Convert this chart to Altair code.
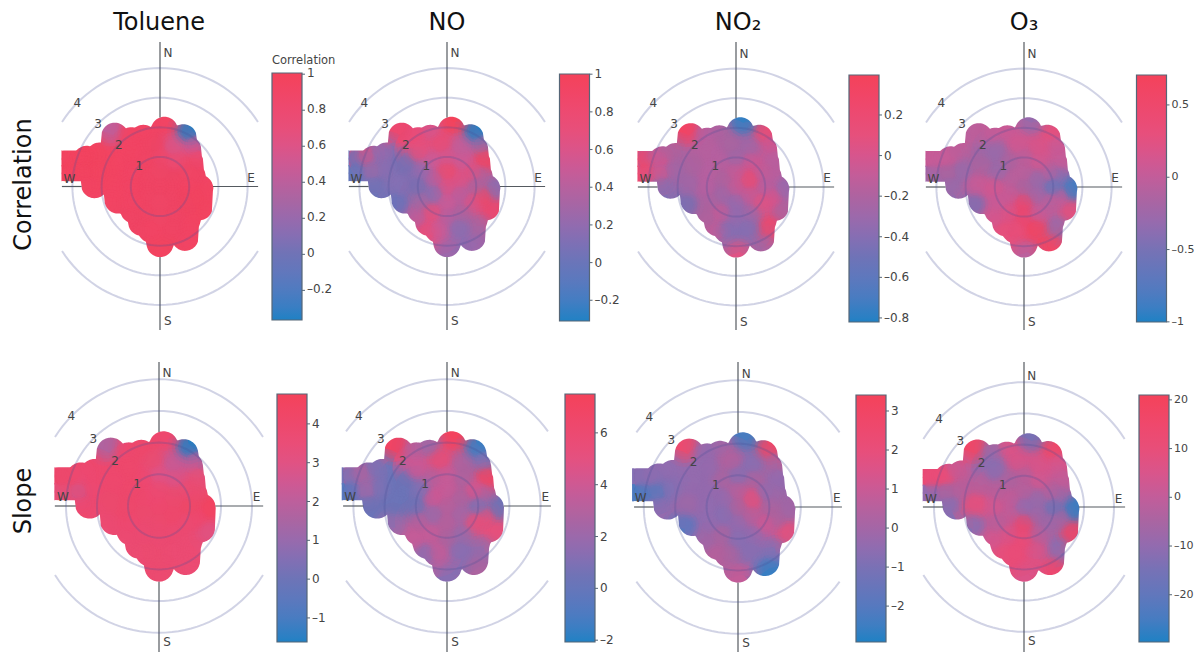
import math
import altair as alt
import pandas as pd

# Sample positions (wind vector, east / north, in ring units) shared by every panel
pos_x = [0, 0, .43, .43, 0, -.43, -.43,
         0, .5, .87, 1, .87, .5, 0, -.5, -.87, -1, -.87, -.5,
         -.2, .45, -.95, -1.45, -1.6, -.3, .4, 1.1, 1.2,
         .15, .8, .95, 1.03, 1.36, 1.34, .92, .86, 0, -.63, -.9, -1.44, -2.24, -1.85, -2.51, -2.3, -2.07, -1.55, -.98, -.57,
         -3.1, -2.6, -3.1, -2.6]
pos_y = [0, .5, .25, -.25, -.5, -.25, .25,
         1, .87, .5, 0, -.5, -.87, -1, -.87, -.5, 0, .5, .87,
         1.45, 1.35, 1.2, .75, .1, -1.45, -1.4, .35, -.35,
         1.9, 1.65, 1.25, .8, -.06, -.69, -1.15, -1.72, -1.93, -1.21, -.79, -.46, .06, .45, .92, .45, 1.03, 1.7, 1.55, 1.63,
         .95, .95, .45, .45]
FIRST_LOBE = 28  # samples from here on lie on the outline
N_CIRCLES = 48   # the last four samples form the squared-off western strip

corr_toluene = [.9, .88, .9, .9, .88, .9, .9,
                .85, .75, .88, .92, .9, .9, .88, .9, .92, .92, .92, .9,
                .9, .55, .92, .92, .92, .92, .9, .9, .95,
                .92, -.37, .5, .85, .93, .95, .92, .93, .95, .9, .9, .92, .92, .95, .95, .95, .95, .42, .92, .92,
                .95, .95, .95, .95]
corr_no = [.6, .8, .6, .4, .5, .15, .4,
           .55, .5, .65, .35, .6, .35, .4, .7, .3, .08, .2, .5,
           .78, .45, .7, .08, .15, .5, .15, .35, .88,
           1, -.31, .3, .97, .15, .82, .35, .25, .25, .75, .4, -.02, .03, .15, .65, .3, .2, .82, .75, .55,
           -.02, .15, -.05, .15]
corr_no2 = [-.1, -.1, .2, -.1, -.34, -.28, -.22,
            -.28, -.05, -.1, -.16, .05, -.28, -.34, -.1, -.22, -.16, -.16, -.16,
            -.22, -.28, -.16, -.22, -.28, -.41, -.41, -.16, 0,
            -.77, .2, -.05, -.16, -.34, -.22, .27, -.22, .05, -.1, -.22, -.46, -.41, -.28, -.16, -.16, -.22, .33, -.16, -.22,
            .27, 0, .2, .05]
corr_o3 = [-.14, -.05, -.31, -.23, .46, .03, -.05,
           -.05, .12, -.05, -.66, -.05, .03, .46, .2, .03, .12, -.31, -.14,
           .12, .2, -.31, -.14, .03, .29, .63, -.4, .03,
           -.31, .29, .03, .03, -.91, .29, -.31, .55, -.05, .29, .12, -.48, -.31, -.31, .03, -.14, -.05, -.05, .03, .03,
           .03, .03, -.23, -.14]
slope_toluene = [3.9, 3.6, 3.8, 4.0, 3.8, 3.8, 3.9,
                 2.9, 2.85, 3.6, 4.2, 3.7, 3.7, 3.7, 3.7, 3.9, 4.0, 4.0, 3.9,
                 3.8, 2.2, 4.0, 3.9, 3.8, 3.8, 3.7, 3.8, 3.9,
                 3.9, -1.6, 2.2, 3.4, 4.6, 3.0, 3.7, 3.7, 3.8, 3.6, 3.6, 3.6, 3.9, 3.9, 4.0, 3.7, 3.9, 1.7, 3.9, 4.0,
                 4.0, 3.5, 3.4, 2.2]
slope_no = [3.2, 3.7, 2.7, 2.3, 3.2, 1.8, 4.1,
            3.7, 2.7, 4.5, .7, 5.3, 1.8, 2.7, 3.7, 3.2, .2, .7, 3.2,
            5.8, 2.7, 4.1, .2, .2, 3.7, 1.3, 2.7, 5.3,
            7.2, -1.6, 1.3, 7.2, .2, 5.3, 1.8, 2.7, 1.3, 1.3, 3.7, 1.8, .2, .7, 3.2, 2.3, .7, 6.8, 3.2, 1.8,
            .7, 1.8, -.6, 1.8]
slope_no2 = [.25, .55, 1.83, .55, -.4, -.7, -.4,
             -.7, .25, -.4, .25, 1.1, -.4, -.7, .25, -.4, -.4, -.4, .25,
             .55, -.7, -.4, -.4, -.1, .25, -.7, -.1, .25,
             -2.3, 2.8, .25, -.4, -.1, 1.83, -.7, -2.6, .8, .55, -.1, -1.9, -.4, -.7, -.4, -1.1, -.4, 2.4, -.4, -.1,
             -.8, -.8, -2.2, -2.2]
slope_o3 = [-9.4, -1.8, -9.0, -7.0, 13.4, .7, .7,
            -1.8, 3.3, -1.8, -17.0, -7.0, -1.8, 11.0, 5.8, -1.8, 3.3, -1.8, -4.4,
            5.8, 5.8, -12.0, -1.8, 8.3, 11.0, 5.8, -7.0, -4.4,
            -14.5, 16.0, 3.3, .7, -28.0, 18.5, -12.0, 13.4, 5.8, 8.3, 3.3, -12.0, -12.0, -1.8, 11.0, -4.4, .7, 16.0, -9.0, 5.8,
            11.0, 8.3, -9.4, -4.4]

col_titles = ["Toluene", "NO", "NO₂", "O₃"]
row_titles = ["Correlation", "Slope"]
compass = ["N", "E", "S", "W"]
ring_labels = [1, 2, 3, 4]

blue_red = ["#1f81c4", "#7073b6", "#ac64a0", "#e6507d", "#f4425a"]
stops = [0, .27, .5, .75, 1]

# cx, cy, ux, uy: pixel centre and pixels per ring unit; lo, hi, ticks: colour bar; bar: left, top, bottom
panels = [
    dict(row=0, col=0, cx=160, cy=186.5, ux=29.2, uy=29.6, xl=3.36, vals=corr_toluene, lo=-.37, hi=1.001, ticks=[1, .8, .6, .4, .2, 0, -.2], bar=(272, 74, 321)),
    dict(row=0, col=1, cx=447, cy=186.5, ux=29.2, uy=29.6, xl=3.36, vals=corr_no, lo=-.31, hi=1.001, ticks=[1, .8, .6, .4, .2, 0, -.2], bar=(559.5, 74, 321)),
    dict(row=0, col=2, cx=736, cy=187, ux=29.2, uy=29.6, xl=3.36, vals=corr_no2, lo=-.82, hi=.397, ticks=[.2, 0, -.2, -.4, -.6, -.8], bar=(849, 75, 322)),
    dict(row=0, col=3, cx=1024, cy=187, ux=29.2, uy=29.6, xl=3.36, vals=corr_o3, lo=-1.001, hi=.707, ticks=[.5, 0, -.5, -1], bar=(1136.5, 75, 322)),
    dict(row=1, col=0, cx=159, cy=506, ux=31, uy=31.7, xl=3.36, vals=slope_toluene, lo=-1.62, hi=4.77, ticks=[4, 3, 2, 1, 0, -1], bar=(277, 394, 642)),
    dict(row=1, col=1, cx=447, cy=506, ux=31.2, uy=31.7, xl=3.33, vals=slope_no, lo=-2.07, hi=7.5, ticks=[6, 4, 2, 0, -2], bar=(565, 394, 642)),
    dict(row=1, col=2, cx=738, cy=507, ux=31.4, uy=31.7, xl=3.31, vals=slope_no2, lo=-2.92, hi=3.41, ticks=[3, 2, 1, 0, -1, -2], bar=(856, 395, 642)),
    dict(row=1, col=3, cx=1024, cy=507, ux=30, uy=31.2, xl=3.37, vals=slope_o3, lo=-29.7, hi=21, ticks=[20, 10, 0, -10, -20], bar=(1139, 395, 642)),
]

LEVELS = [44, 36, 29, 23, 18, 14]   # diameters (px) of the soft blending discs
SOFT_OPACITY = .25
UNDER_D = 50                        # opaque underpainting
LOBE_SHIFT = .3                     # outline samples sit nearer their outer edge
CORE = (-.5, 0)
BASE_D = {0: 27, 1: 29}
MASK_MARGIN = 3.6   # half height of the white cover round a blob, ring units
FONT = "DejaVu Sans"
TXT = "#444444"


def inside(ex, ny, row, sx, sy):
    """Is a point (ring units) within the blob outline made by the lobes?"""
    r = BASE_D[row] / 2
    for i in range(len(pos_x)):
        dx = (ex - pos_x[i]) * sx
        dy = (ny - pos_y[i]) * sy
        if i < N_CIRCLES:
            if dx * dx + dy * dy <= r * r:
                return True
        elif abs(dx) <= .27 * sx and abs(dy) <= .27 * sy:
            return True
    return False


def edge(ex, start, end, row, sx, sy):
    """Walk along a column from outside the blob, return the first ny that is inside."""
    n = int(abs(end - start) * sy / 2)
    prev = start
    for k in range(n + 1):
        ny = start + (end - start) * k / n
        if inside(ex, ny, row, sx, sy):
            a, b = prev, ny
            for _ in range(5):
                m = (a + b) / 2
                if inside(ex, m, row, sx, sy):
                    b = m
                else:
                    a = m
            return b
        prev = ny
    return None


def outline(p):
    sx, sy = p["ux"], p["uy"]
    xs, tops, bots = [], [], []
    n = int((p["xl"] + 2.9) * sx)
    for k in range(n + 1):
        ex = -p["xl"] + k / sx
        t = edge(ex, 3, -3, p["row"], sx, sy)
        b = edge(ex, -3, 3, p["row"], sx, sy) if t is not None else None
        xs.append(ex)
        # columns with no blob: the two covers overlap
        tops.append(t if t is not None else -0.05)
        bots.append(b if b is not None else 0.05)
    return xs, tops, bots


def blob_rows(p):
    sx = p["ux"]
    rows = []
    n = len(pos_x)
    order = list(range(n - 1, -1, -1))   # outline first, middle last, at every level
    for i in order:
        if i < N_CIRCLES:
            x = max(pos_x[i], -p["xl"] + UNDER_D / 2 / sx)
            rows.append(dict(x=x, y=pos_y[i], v=p["vals"][i], s=UNDER_D ** 2, o=1))
    for d in LEVELS:
        for i in order:
            x, y = pos_x[i], pos_y[i]
            if FIRST_LOBE <= i < N_CIRCLES:
                dist = math.hypot(x - CORE[0], y - CORE[1])
                x += (x - CORE[0]) / dist * LOBE_SHIFT
                y += (y - CORE[1]) / dist * LOBE_SHIFT
            # keep each disc east of the clipped western edge of the panel
            x = max(x, -p["xl"] + d / 2 / sx)
            rows.append(dict(x=x, y=y, v=p["vals"][i], s=d * d, o=SOFT_OPACITY))
    squares = [dict(x=pos_x[i], y=pos_y[i], v=p["vals"][i]) for i in range(N_CIRCLES, n)]
    return pd.DataFrame(squares), pd.DataFrame(rows)


def ring_rows(p):
    rows = []
    for r in ring_labels:
        piece = 0
        was_in = False
        for k in range(0, 361, 3):
            a = math.radians(k)
            x, y = r * math.cos(a), r * math.sin(a)
            now_in = abs(x) <= p["xl"]
            if now_in:
                if not was_in:
                    piece += 1
                rows.append(dict(x=x, y=y, g=f"{r}-{piece}", i=k))
            was_in = now_in
    return pd.DataFrame(rows)


def panel_layers(p):
    row = p["row"]
    x_sc = alt.Scale(domain=[-4, 4], range=[p["cx"] - 4 * p["ux"] - 8, p["cx"] + 4 * p["ux"] - 8], nice=False, zero=False)
    y_sc = alt.Scale(domain=[-4, 4], range=[p["cy"] + 4 * p["uy"] - 8, p["cy"] - 4 * p["uy"] - 8], nice=False, zero=False)
    X = alt.X("x:Q", scale=x_sc, axis=None)
    Y = alt.Y("y:Q", scale=y_sc, axis=None)

    lo, hi = p["lo"], p["hi"]
    left, top, bottom = p["bar"]
    is_first = row == 0 and p["col"] == 0
    legend = alt.Legend(
        orient="none", legendX=left - 8, legendY=top - 8 - (19.5 if is_first else 0), direction="vertical", type="gradient",
        title="Correlation" if is_first else None,
        titleFont=FONT, titleFontSize=11.5, titleFontWeight="normal", titleColor=TXT, titlePadding=7,
        gradientLength=bottom - top, gradientThickness=30,
        gradientStrokeColor="#556677", gradientStrokeWidth=1.2,
        values=p["ticks"], format=".3~g", labelExpr="replace(datum.label, '−', '–')",
        labelFont=FONT, labelFontSize=11 if p["col"] == 3 else 12, labelColor=TXT,
        labelOffset=5, labelOverlap=False, tickCount=len(p["ticks"]),
    )
    color = alt.Color(
        "v:Q", legend=legend,
        scale=alt.Scale(domain=[lo + t * (hi - lo) for t in stops], range=blue_red, nice=False, zero=False),
    )

    squares_df, discs_df = blob_rows(p)
    squares = alt.Chart(squares_df).mark_square(size=(.54 * p["ux"]) * (.54 * p["uy"]) + 6, opacity=1, strokeWidth=0).encode(x=X, y=Y, color=color)
    discs = alt.Chart(discs_df).mark_circle(strokeWidth=0).encode(
        x=X, y=Y, color=color,
        size=alt.Size("s:Q", scale=None), opacity=alt.Opacity("o:Q", scale=None),
    )

    # White cover that trims the soft discs to the lobed outline
    xs, tops, bots = outline(p)
    cover_top = pd.DataFrame(dict(x=xs, y=tops, y2=[MASK_MARGIN] * len(xs)))
    cover_bot = pd.DataFrame(dict(x=xs, y=bots, y2=[-MASK_MARGIN] * len(xs)))
    masks = [
        alt.Chart(d).mark_area(color="white", opacity=1, strokeWidth=0).encode(x=X, y=Y, y2="y2:Q")
        for d in (cover_top, cover_bot)
    ]

    # Axis lines stop at the blob, which hides them
    ylim_top = (p["cy"] - (42 if row == 0 else 362)) / p["uy"]
    ylim_bot = ((330 if row == 0 else 652) - p["cy"]) / p["uy"]
    zero_i = min(range(len(xs)), key=lambda k: abs(xs[k]))
    in_row = [k / 40 - p["xl"] for k in range(int(p["xl"] * 80) + 1) if inside(k / 40 - p["xl"], 0, row, p["ux"], p["uy"])]
    axes_df = pd.DataFrame([
        dict(x=-p["xl"], y=0, g="w", i=0), dict(x=in_row[0], y=0, g="w", i=1),
        dict(x=in_row[-1], y=0, g="e", i=0), dict(x=p["xl"], y=0, g="e", i=1),
        dict(x=0, y=-ylim_bot, g="s", i=0), dict(x=0, y=bots[zero_i], g="s", i=1),
        dict(x=0, y=tops[zero_i], g="n", i=0), dict(x=0, y=ylim_top, g="n", i=1),
    ])
    axes = alt.Chart(axes_df).mark_line(color="#555a60", strokeWidth=1.2).encode(x=X, y=Y, detail="g:N", order="i:Q")

    rings = alt.Chart(ring_rows(p)).mark_line(color="#475197", strokeOpacity=.25, strokeWidth=2).encode(
        x=X, y=Y, detail="g:N", order="i:Q")

    d = .707
    ring_txt = pd.DataFrame(dict(x=[-r * d for r in ring_labels], y=[r * d for r in ring_labels], t=[str(r) for r in ring_labels]))
    if row == 0:
        cx_pos, cy_pos = [.27, 3.12, .27, -3.1], [4.5, .3, -4.55, .27]
    else:
        cx_pos, cy_pos = [.26, 3.15, .26, -3.1], [4.2, .27, -4.28, .27]
    comp_txt = pd.DataFrame(dict(x=cx_pos, y=cy_pos, t=compass))
    labels = alt.Chart(pd.concat([ring_txt, comp_txt])).mark_text(font=FONT, fontSize=12, color=TXT).encode(x=X, y=Y, text="t:N")

    layers = [squares, discs, *masks, axes, rings, labels]

    if row == 0:
        title_dx = {0: -.03, 1: 0, 2: .07, 3: 0}[p["col"]]
        ttl = pd.DataFrame(dict(x=[title_dx], y=[(p["cy"] - 30.4) / p["uy"]], t=[col_titles[p["col"]]]))
        layers.append(alt.Chart(ttl).mark_text(font=FONT, fontSize=24, color="#111111", baseline="alphabetic").encode(x=X, y=Y, text="t:N"))
    if p["col"] == 0:
        rx = (30.5 - p["cx"]) / p["ux"]
        ry = (p["cy"] - (184.5 if row == 0 else 501)) / p["uy"]
        rt = pd.DataFrame(dict(x=[rx], y=[ry], t=[row_titles[row]]))
        layers.append(alt.Chart(rt).mark_text(font=FONT, fontSize=24, color="#111111", angle=270, baseline="alphabetic").encode(x=X, y=Y, text="t:N"))

    panel = alt.layer(*layers)

    # short tick marks beside the colour bar
    bar_y = alt.Y("v:Q", axis=None, scale=alt.Scale(domain=[lo, hi], range=[bottom - 8, top - 8], nice=False, zero=False))
    ticks = alt.Chart(pd.DataFrame(dict(v=p["ticks"]))).mark_rule(color="#556677", strokeWidth=1).encode(
        y=bar_y, x=alt.value(left - 8 + 30), x2=alt.value(left - 8 + 33))
    return [panel, ticks]


all_layers = []
for p in panels:
    all_layers.extend(panel_layers(p))

chart = (
    alt.layer(*all_layers)
    .resolve_scale(x="independent", y="independent", color="independent")
    .properties(width=1186, height=644, padding=0, autosize=alt.AutoSizeParams(type="none"), background="white")
    .configure_view(stroke=None)
)
chart.save("out.html", embed_options={"renderer": "svg", "actions": False})
